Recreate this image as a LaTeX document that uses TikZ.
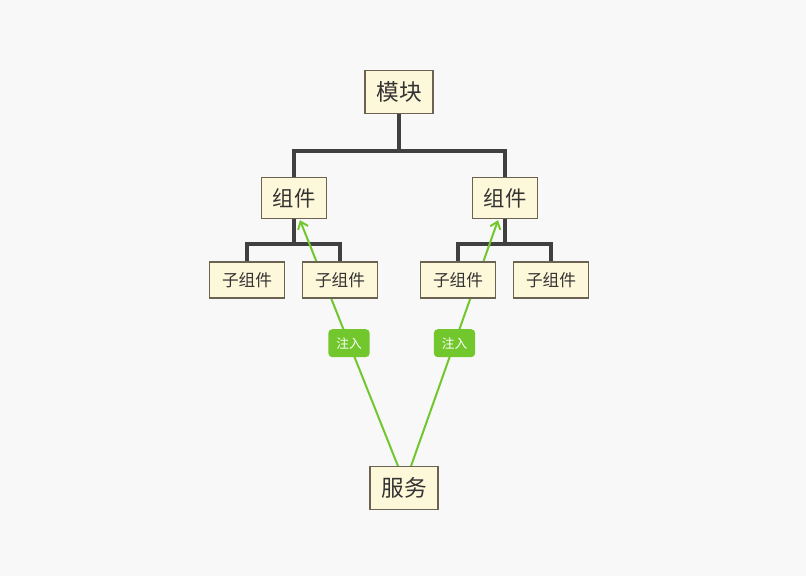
\documentclass[tikz,border=0pt]{standalone}
\usepackage{fontspec}
\newfontfamily\cjk{Noto Sans CJK SC}
\usetikzlibrary{arrows.meta,calc}
\pgfdeclarelayer{back}
\pgfdeclarelayer{lines}
\pgfsetlayers{back,lines,main}
\definecolor{bgc}{HTML}{F8F8F8}
\definecolor{boxfill}{HTML}{FEF8DA}
\definecolor{boxdraw}{HTML}{6B6252}
\definecolor{treeline}{HTML}{404040}
\definecolor{inj}{HTML}{72C72C}
\definecolor{txt}{HTML}{333333}
\begin{document}
\begin{tikzpicture}[x=0.75pt,y=-0.75pt,
  topic/.style={draw=boxdraw,line width=0.8pt,fill=boxfill,text=txt,font=\cjk\fontsize{17}{20}\selectfont,inner sep=0pt},
  big/.style={topic,minimum width=51pt,minimum height=32pt},
  mid/.style={topic,minimum width=49pt,minimum height=31pt,font=\cjk\fontsize{16}{19}\selectfont},
  small/.style={topic,minimum width=56pt,minimum height=27pt,font=\cjk\fontsize{12.5}{15}\selectfont},
  tree/.style={draw=treeline,line width=2.4pt},
  injline/.style={draw=inj,line width=1.5pt},
  injlabel/.style={fill=inj,text=white,rounded corners=3pt,font=\cjk\fontsize{9.5}{11}\selectfont,minimum width=31pt,minimum height=21pt,inner sep=0pt}]
\begin{pgfonlayer}{back}
\fill[bgc] (0,0) rectangle (806,576);
\end{pgfonlayer}
\useasboundingbox (0,0) rectangle (806,576);
\node[big] (m) at (399,92) {模块};
\node[mid] (c1) at (294,198) {组件};
\node[mid] (c2) at (505,198) {组件};
\node[small] (s1) at (247,280) {子组件};
\node[small] (s2) at (340,280) {子组件};
\node[small] (s3) at (458,280) {子组件};
\node[small] (s4) at (551,280) {子组件};
\node[big] (f) at (404,488) {服务};
\coordinate (j0) at (399,151);
\coordinate (j1) at (294,244);
\coordinate (j2) at (505,244);
\begin{pgfonlayer}{lines}
\draw[tree] (m.south) -- (m.south |- j0) -| (c1.north);
\draw[tree] (m.south |- j0) -| (c2.north);
\draw[tree] (c1.south) -- (c1.south |- j1) -| (s1.north);
\draw[tree] (c1.south |- j1) -| (s2.north);
\draw[tree] (c2.south) -- (c2.south |- j2) -| (s3.north);
\draw[tree] (c2.south |- j2) -| (s4.north);
\draw[injline,-{Straight Barb[length=5pt,width=8pt,line width=1.5pt]}] ($(f.north)+(-6,0)$) -- node[injlabel,pos=0.5] (l1) {注入} ($(c1.south)+(6,1)$);
\draw[injline,-{Straight Barb[length=5pt,width=8pt,line width=1.5pt]}] ($(f.north)+(7,0)$) -- node[injlabel,pos=0.5] (l2) {注入} ($(c2.south)+(-7,1)$);
\end{pgfonlayer}
\end{tikzpicture}
\end{document}
